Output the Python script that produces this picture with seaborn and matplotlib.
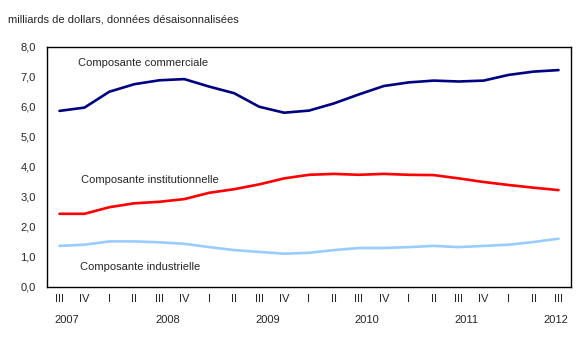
import matplotlib
matplotlib.use("Agg")
import matplotlib.pyplot as plt
import seaborn as sns
import pandas as pd
import numpy as np

quarters = ["III", "IV", "I", "II", "III", "IV", "I", "II", "III", "IV",
            "I", "II", "III", "IV", "I", "II", "III", "IV", "I", "II", "III"]
years = ["2007", "2008", "2009", "2010", "2011", "2012"]
year_pos = [0.3, 4.35, 8.35, 12.3, 16.3, 19.9]

commerciale = [5.87, 5.98, 6.51, 6.76, 6.89, 6.93, 6.68, 6.46, 6.01, 5.81,
               5.88, 6.12, 6.42, 6.70, 6.82, 6.88, 6.85, 6.88, 7.07, 7.18, 7.23]
institutionnelle = [2.44, 2.44, 2.66, 2.79, 2.84, 2.93, 3.14, 3.26, 3.42, 3.62,
                    3.74, 3.77, 3.74, 3.77, 3.74, 3.73, 3.62, 3.50, 3.40, 3.31, 3.23]
industrielle = [1.37, 1.41, 1.52, 1.52, 1.49, 1.44, 1.33, 1.23, 1.17, 1.11,
                1.14, 1.23, 1.30, 1.30, 1.33, 1.37, 1.33, 1.37, 1.41, 1.50, 1.61]

series_names = ["Composante commerciale", "Composante institutionnelle", "Composante industrielle"]
colors = ["#000080", "#ff0000", "#99ccff"]

n = len(quarters)
df = pd.DataFrame({
    "x": list(range(n)) * 3,
    "value": commerciale + institutionnelle + industrielle,
    "serie": [series_names[0]] * n + [series_names[1]] * n + [series_names[2]] * n,
})

sns.set_style("white")
plt.rcParams["font.family"] = ["Liberation Sans", "DejaVu Sans"]

fig = plt.figure(figsize=(5.88, 3.49), dpi=100)
ax = fig.add_axes([47/588, 1-287/349, (571-47)/588, (287-47)/349])

sns.lineplot(data=df, x="x", y="value", hue="serie", palette=colors,
             hue_order=series_names, linewidth=1.9, legend=False, ax=ax)

ax.set_xlim(-0.5, n - 0.5)
ax.set_ylim(0, 8)
ax.set_yticks(np.arange(0, 9, 1))
ax.set_yticklabels([f"{v:.1f}".replace(".", ",") for v in range(9)], fontsize=8)
ax.set_xticks(range(n))
ax.set_xticklabels(quarters, fontsize=8)
ax.set_xticks(np.arange(0.5, n - 0.5, 1), minor=True)
ax.tick_params(axis="x", which="major", length=0, pad=5)
ax.tick_params(axis="x", which="minor", direction="in", length=4, width=0.8, color="black")
ax.tick_params(axis="y", which="major", direction="out", length=5, width=0.8, color="black", pad=3)
ax.set_xlabel("")
ax.set_ylabel("")
for s in ax.spines.values():
    s.set_color("black")
    s.set_linewidth(1.0)

for lbl, xp in zip(years, year_pos):
    ax.text(xp, -1.1, lbl, ha="center", va="center", fontsize=8,
            transform=ax.transData, clip_on=False)

ax.text(0.76, 7.45, series_names[0], fontsize=8, ha="left", va="center")
ax.text(0.86, 3.57, series_names[1], fontsize=8, ha="left", va="center")
ax.text(0.81, 0.67, series_names[2], fontsize=8, ha="left", va="center")

fig.text(8/588, 1-20/349, "milliards de dollars, données désaisonnalisées",
         fontsize=8, ha="left", va="center")

fig.savefig("out.png", dpi=100)
